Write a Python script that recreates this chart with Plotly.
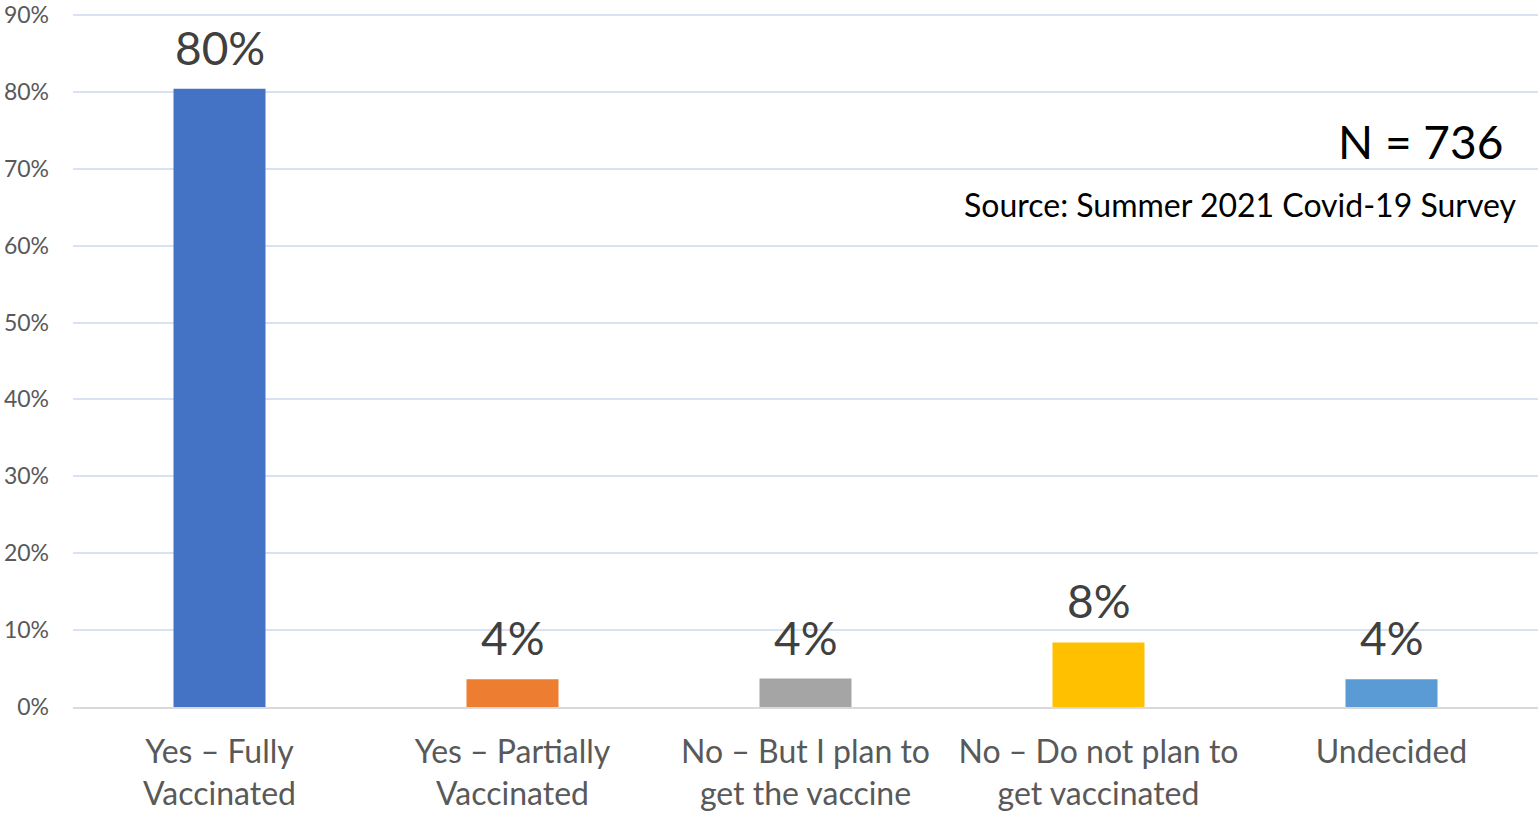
import plotly.graph_objects as go

categories = ["Yes – Fully<br>Vaccinated", "Yes – Partially<br>Vaccinated",
              "No – But I plan to<br>get the vaccine", "No – Do not plan to<br>get vaccinated",
              "Undecided"]
values = [80.4, 3.6, 3.7, 8.4, 3.6]
labels = ["80%", "4%", "4%", "8%", "4%"]
colors = ["#4472C4", "#ED7D31", "#A5A5A5", "#FFC000", "#5B9BD5"]
tick_vals = [0, 10, 20, 30, 40, 50, 60, 70, 80, 90]
tick_text = [f"{v}%" for v in tick_vals]

FONT = "Lato, Open Sans, sans-serif"

fig = go.Figure(go.Bar(
    x=categories, y=values, marker_color=colors, marker_line_width=0,
    hoverinfo="skip",
))

data_ann = [
    dict(x=c, y=v, text=t, xref="x", yref="y", showarrow=False, yanchor="bottom", yshift=12,
         font=dict(size=46, color="#404040", family=FONT))
    for c, v, t in zip(categories, values, labels)
]

fig.update_layout(
    width=1538, height=814,
    margin=dict(l=73, r=0, t=9, b=107),
    paper_bgcolor="white", plot_bgcolor="white",
    bargap=0.686, showlegend=False,
    font=dict(family=FONT),
    annotations=data_ann + [
        dict(text="N = 736", x=0.9775, y=0.8147, xref="paper", yref="paper", xanchor="right", yanchor="middle",
             showarrow=False, font=dict(size=46, color="#000000", family=FONT)),
        dict(text="Source: Summer 2021 Covid-19 Survey", x=0.9864, y=0.724, xref="paper", yref="paper",
             xanchor="right", yanchor="middle", showarrow=False, font=dict(size=32, color="#000000", family=FONT)),
    ],
)
fig.update_yaxes(range=[0, 90.25], tickvals=tick_vals, ticktext=tick_text,
                 showgrid=True, gridcolor="#D9E2F3", gridwidth=1.5,
                 zeroline=False, showline=False, ticklabeloverflow="allow",
                 tickfont=dict(size=23, color="#595959", family=FONT), ticks="", ticklabelstandoff=23)
fig.update_xaxes(showline=True, linecolor="#D9D9D9", linewidth=1.5, ticks="", ticklabelstandoff=16,
                 tickfont=dict(size=32, color="#595959", family=FONT))

fig.write_html("out.html", config={"displayModeBar": False},
               post_script="document.body.style.margin='0';document.body.style.overflow='hidden';")
